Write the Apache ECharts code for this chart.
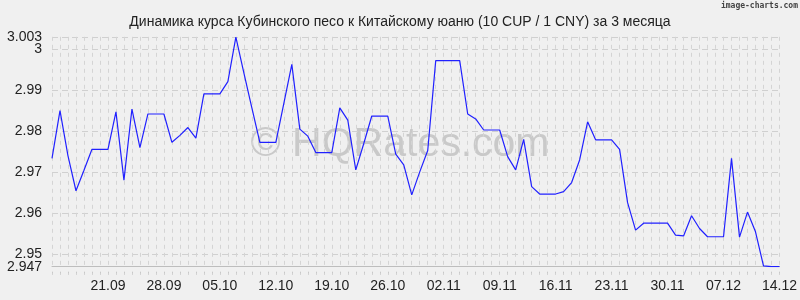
<!DOCTYPE html>
<html><head><meta charset="utf-8">
<script src="https://cdn.jsdelivr.net/npm/echarts@6/dist/echarts.min.js"></script>
<style>html,body{margin:0;padding:0;background:#f0f0f0}#c{width:800px;height:300px}</style>
</head><body><div id="c"></div>
<script>
const titleText = 'Динамика курса Кубинского песо к Китайскому юаню (10 CUP / 1 CNY) за 3 месяца';
const dates = [
'14.09','15.09','16.09','17.09','18.09','19.09','20.09','21.09','22.09','23.09','24.09','25.09','26.09','27.09','28.09','29.09','30.09',
'01.10','02.10','03.10','04.10','05.10','06.10','07.10','08.10','09.10','10.10','11.10','12.10','13.10','14.10','15.10','16.10','17.10','18.10','19.10','20.10','21.10','22.10','23.10','24.10','25.10','26.10','27.10','28.10','29.10','30.10','31.10',
'01.11','02.11','03.11','04.11','05.11','06.11','07.11','08.11','09.11','10.11','11.11','12.11','13.11','14.11','15.11','16.11','17.11','18.11','19.11','20.11','21.11','22.11','23.11','24.11','25.11','26.11','27.11','28.11','29.11','30.11',
'01.12','02.12','03.12','04.12','05.12','06.12','07.12','08.12','09.12','10.12','11.12','12.12','13.12','14.12'
];
const rates = [
2.9734,2.9850,2.9740,2.9655,2.9705,2.9756,2.9756,2.9756,2.9847,2.9681,2.9854,2.9760,2.9842,2.9842,2.9842,2.9773,2.9790,2.9809,2.9783,
2.9891,2.9891,2.9891,2.9921,3.0029,2.9942,2.9857,2.9773,2.9773,2.9773,2.9868,2.9963,2.9805,2.9788,2.9748,2.9748,2.9748,2.9857,2.9827,2.9706,2.9770,2.9837,2.9837,2.9837,2.9744,2.9718,
2.9645,2.9701,2.9753,2.9972,2.9972,2.9972,2.9972,2.9842,2.9830,2.9803,2.9803,2.9803,2.9738,2.9706,2.9780,2.9665,2.9647,2.9647,2.9647,2.9653,2.9675,2.9730,2.9823,2.9779,2.9779,2.9779,
2.9756,2.9626,2.9559,2.9576,2.9576,2.9576,2.9576,2.9547,2.9545,2.9594,2.9563,2.9543,2.9543,2.9543,2.9734,2.9542,2.9603,2.9555,2.9472,2.9470,2.9470
];
const yTicks = [2.95, 2.96, 2.97, 2.98, 2.99, 3];
const yEndTicks = [2.947, 3.003];
const yMin = 2.947, yMax = 3.003;
const labelDates = ['21.09','28.09','05.10','12.10','19.10','26.10','02.11','09.11','16.11','23.11','30.11','07.12','14.12'];

const chart = echarts.init(document.getElementById('c'), null, {renderer:'canvas'});
const font = 'Liberation Sans, Arial, sans-serif';
const fmt = function(v){ return String(+(+v).toFixed(3)); };
chart.setOption({
  backgroundColor: '#f0f0f0',
  animation: false,
  title: {
    text: titleText, left: 'center', top: 10,
    textStyle: {fontFamily: font, fontSize: 14, fontWeight: 'normal', color: '#222'}
  },
  graphic: [
    {type:'text', right: 2, top: 2, style:{text:'image-charts.com', font:'bold 8px DejaVu Sans Mono, monospace', fill:'#444'}},
    {type:'text', left: 'center', top: 124, silent: true, style:{text:'© HQRates.com', font:'41px Liberation Sans, Arial, sans-serif', fill:'#c9c9c9'}, z: 0}
  ],
  grid: {left: 52, right: 20, top: 36.8, bottom: 33.3},
  xAxis: {
    type: 'category', data: dates, boundaryGap: false,
    axisLine: {show: true, lineStyle: {color: '#bdbdbd', width: 1}},
    axisTick: {show: true, interval: 0, length: 8, lineStyle: {color: '#c8c8c8', type: [0, 5, 2]}},
    axisLabel: {
      interval: function(i, v){ return labelDates.indexOf(v) >= 0; },
      margin: 12, fontFamily: font, fontSize: 14, color: '#222'
    },
    splitLine: {show: true, interval: 0, lineStyle: {color: '#d4d4d4', type: [4, 4], width: 1}}
  },
  yAxis: [{
    type: 'value', min: yMin, max: yMax,
    axisLine: {show: false},
    axisTick: {show: false},
    axisLabel: {customValues: yTicks, margin: 10, fontFamily: font, fontSize: 14, color: '#222', formatter: fmt},
    splitLine: {show: true, lineStyle: {color: '#d0d0d0', type: [6, 4]}}
  }, {
    type: 'value', min: yMin, max: yMax, position: 'left',
    axisLine: {show: false},
    axisTick: {show: false},
    axisLabel: {customValues: yEndTicks, margin: 10, fontFamily: font, fontSize: 14, color: '#222', formatter: fmt},
    splitLine: {show: false}
  }],
  series: [{
    type: 'line', data: rates, symbol: 'none', yAxisIndex: 0,
    lineStyle: {color: '#2020ff', width: 1.2}, z: 5,
    markLine: {silent: true, symbol: 'none', label: {show: false},
      lineStyle: {color: '#d0d0d0', type: [6, 4], width: 1},
      data: [{yAxis: yMax}]}
  }]
});
</script></body></html>
